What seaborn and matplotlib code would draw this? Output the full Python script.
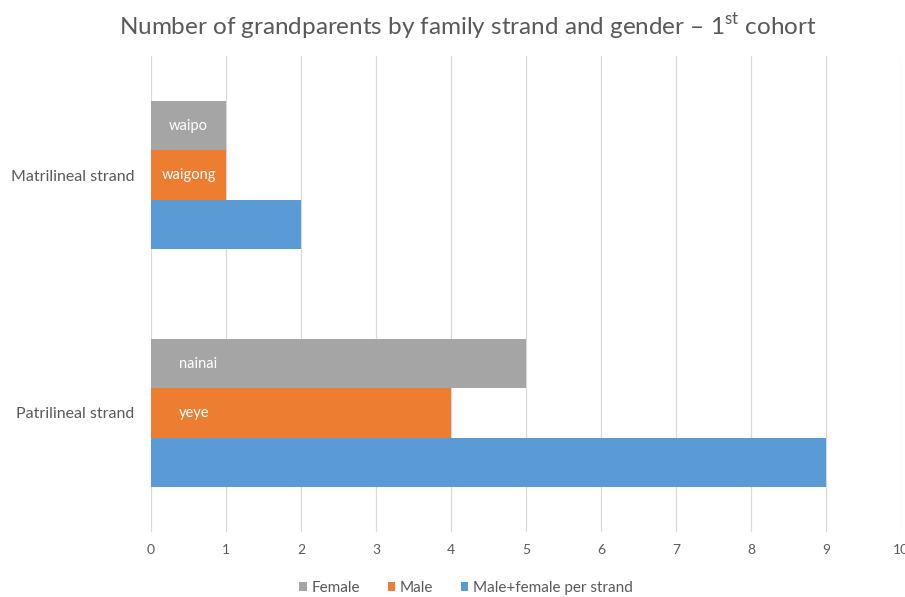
import matplotlib
matplotlib.use("Agg")
import matplotlib.pyplot as plt
import seaborn as sns
import pandas as pd

# Chart data
strands = ["Matrilineal strand", "Patrilineal strand"]
series = ["Female", "Male", "Male+female per strand"]
female = [1, 5]
male = [1, 4]
total = [2, 9]
bar_names = {"Female": ["waipo", "nainai"], "Male": ["waigong", "yeye"]}
x_ticks = [0, 1, 2, 3, 4, 5, 6, 7, 8, 9, 10]

colors = {"Female": "#A5A5A5", "Male": "#ED7D31", "Male+female per strand": "#5B9BD5"}
text_color = "#595959"

sns.set_theme(style="white")
plt.rcParams["font.family"] = ["Lato", "DejaVu Sans"]
plt.rcParams["mathtext.fontset"] = "custom"
plt.rcParams["mathtext.rm"] = "Lato"

df = pd.DataFrame({
    "strand": strands * 3,
    "series": [s for s in series for _ in strands],
    "count": female + male + total,
})

fig = plt.figure(figsize=(9.05, 5.97), dpi=100)
ax = fig.add_axes([0.1669, 0.109, 0.8287, 0.797])

sns.barplot(data=df, y="strand", x="count", hue="series", hue_order=series,
            order=strands, palette=colors, orient="h", width=0.62,
            saturation=1, linewidth=0, ax=ax, legend=True)

ax.set_xlim(0, 10)
ax.set_xticks(x_ticks)
ax.set_xticklabels([str(t) for t in x_ticks])
ax.set_xlabel("")
ax.set_ylabel("")
ax.grid(axis="x", color="#D9D9D9", linewidth=0.9)
ax.grid(axis="y", visible=False)
ax.set_axisbelow(True)
for s in ax.spines.values():
    s.set_visible(False)
ax.tick_params(axis="both", length=0, colors=text_color)
ax.tick_params(axis="x", pad=9, labelsize=10)
ax.tick_params(axis="y", pad=12, labelsize=11.5)

# Names written inside the Female and Male bars
label_x = {"Female": [0.5, 0.63], "Male": [0.5, 0.58]}
for cont, name in zip(ax.containers, series):
    if name not in bar_names:
        continue
    for patch, txt, xx in zip(cont.patches, bar_names[name], label_x[name]):
        yc = patch.get_y() + patch.get_height() / 2
        ax.text(xx, yc, txt, color="white", fontsize=10.5,
                ha="center", va="center")

leg = ax.legend(loc="center", bbox_to_anchor=(0.515, 0.015),
                bbox_transform=fig.transFigure, ncol=3, frameon=False,
                fontsize=11, handlelength=0.5, handleheight=0.5,
                handletextpad=0.3, columnspacing=1.8)
for t in leg.get_texts():
    t.set_color(text_color)

fig.text(0.517, 0.955,
         r"Number of grandparents by family strand and gender – 1$^{\mathrm{st}}$ cohort",
         ha="center", va="center", fontsize=17.5, color=text_color)

fig.savefig("out.png", dpi=100, facecolor="white")
